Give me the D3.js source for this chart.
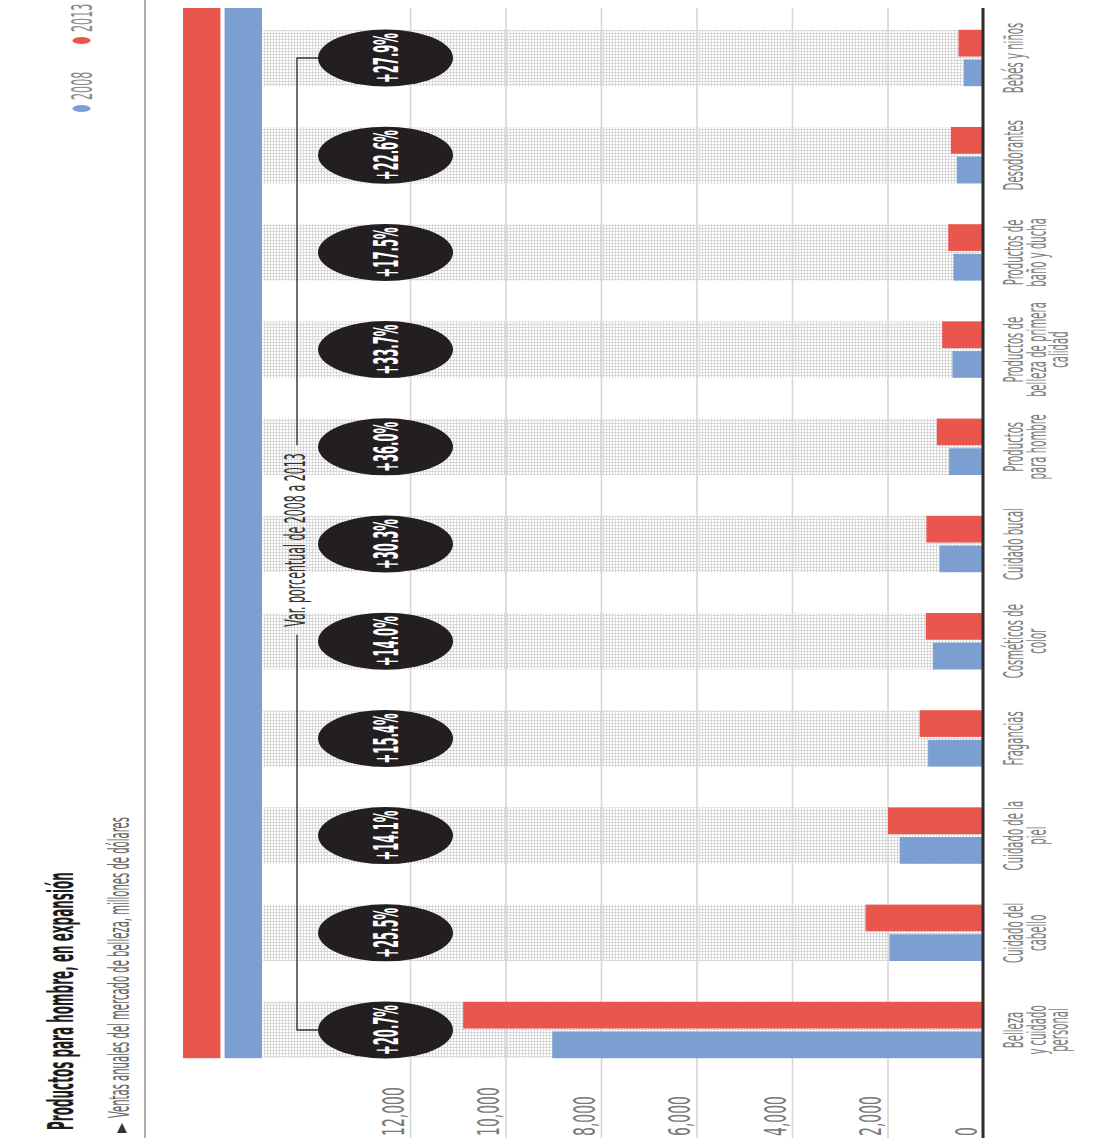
<!DOCTYPE html>
<html>
<head>
<meta charset="utf-8">
<title>Productos para hombre, en expansión</title>
<script src="https://cdn.jsdelivr.net/npm/d3@7"></script>
<style>
  html, body { margin: 0; padding: 0; background: #ffffff; }
  svg { display: block; }
</style>
</head>
<body>
<svg id="chart" width="1110" height="1138"></svg>
<script>
// ---- data -------------------------------------------------------------
const categories = [
  "Belleza y cuidado personal", "Cuidado del cabello", "Cuidado de la piel",
  "Fragancias", "Cosméticos de color", "Cuidado bucal", "Productos para hombre",
  "Productos de belleza de primera calidad", "Productos de baño y ducha",
  "Desodorantes", "Bebés y niños"
];
const categoryLines = [
  ["Belleza", "y cuidado", "personal"], ["Cuidado del", "cabello"], ["Cuidado de la", "piel"],
  ["Fragancias"], ["Cosméticos de", "color"], ["Cuidado bucal"], ["Productos", "para hombre"],
  ["Productos de", "belleza de primera", "calidad"], ["Productos de", "baño y ducha"],
  ["Desodorantes"], ["Bebés y niños"]
];
const series = ["2008", "2013"];
const sales2008 = [9020, 1960, 1745, 1150, 1050, 910, 710, 640, 620, 550, 400];
const sales2013 = [10887, 2460, 1991, 1327, 1197, 1186, 966, 856, 728, 674, 512];
const changeLabels = ["+20.7%", "+25.5%", "+14.1%", "+15.4%", "+14.0%", "+30.3%",
                      "+36.0%", "+33.7%", "+17.5%", "+22.6%", "+27.9%"];
const tickValues = [0, 2000, 4000, 6000, 8000, 10000, 12000];
const tickLabels = ["0", "2,000", "4,000", "6,000", "8,000", "10,000", "12,000"];
const titleText = "Productos para hombre, en expansión";
const subtitleText = "Ventas anuales del mercado de belleza, millones de dólares";
const bracketText = "Var. porcentual de 2008 a 2013";

const rows = categories.map((c, i) => ({
  category: c, lines: categoryLines[i], change: changeLabels[i],
  values: [{ key: series[0], value: sales2008[i] }, { key: series[1], value: sales2013[i] }]
}));

// ---- layout (the chart is drawn upright, then turned a quarter turn) ---
const W = 1138;          // length along the category axis
const NARROW = "'Liberation Sans Narrow', 'DejaVu Sans Condensed', 'Arial Narrow', sans-serif";
const color = d3.scaleOrdinal(series, ["#7b9fd1", "#e9564e"]);

const svg = d3.select("#chart");
const root = svg.append("g").attr("transform", `translate(0,${W}) rotate(-90)`);

// condensing factors so that the type keeps its narrow proportions
function probeWidth(str, size, weight) {
  const t = svg.append("text").text(str).attr("font-family", NARROW)
    .attr("font-size", size).attr("font-weight", weight);
  const w = t.node().getComputedTextLength();
  t.remove();
  return w;
}
const kBold = 258 / probeWidth(titleText, 16, "bold");
const kReg = 301 / probeWidth(subtitleText, 13.3, "normal");
const kPct = 50 / probeWidth("+27.9%", 18.8, "bold");

const x0 = d3.scaleBand().domain(categories).range([59.4, 1128.6])
  .paddingInner(0.42).paddingOuter(0.21);
const x1 = d3.scaleBand().domain(series).range([0, x0.bandwidth()]).paddingInner(0.1);
const y = d3.scaleLinear().domain([0, 12000]).range([983, 410]);
const chartRight = 1130;

// place a text at (x, yy), condensed along the reading direction and
// stretched along the value direction
function place(sel, x, yy, s, k) {
  return sel.attr("x", 0).attr("y", 0)
    .attr("transform", `translate(${x},${yy}) scale(${k},${s})`);
}

// hatched pattern for the category backgrounds
const defs = svg.append("defs");
const pat = defs.append("pattern").attr("id", "hatch")
  .attr("patternUnits", "userSpaceOnUse").attr("width", 3).attr("height", 3);
pat.append("rect").attr("width", 3).attr("height", 3).attr("fill", "#ffffff");
pat.append("path").attr("d", "M0,0.5H3M0.5,0V3").attr("stroke", "#d9d9d9").attr("stroke-width", 1);

// ---- title block -------------------------------------------------------
place(root.append("text").text(titleText), 8, 73, 2.17, kBold)
  .attr("font-family", NARROW).attr("font-weight", "bold")
  .attr("font-size", 16).attr("fill", "#1c1c1c");

root.append("path").attr("d", "M5,117L15,122L5,127Z").attr("fill", "#333");
place(root.append("text").text(subtitleText), 20, 129, 2.1, kReg)
  .attr("font-family", NARROW).attr("font-size", 13.3).attr("fill", "#666");

root.append("line").attr("x1", 0).attr("x2", W).attr("y1", 145).attr("y2", 145)
  .attr("stroke", "#777").attr("stroke-width", 1.2);

// legend
const legendPos = { "2008": 1029.5, "2013": 1097.5 };
series.forEach(s => {
  root.append("ellipse").attr("cx", legendPos[s]).attr("cy", 81.5)
    .attr("rx", 3.6).attr("ry", 9).attr("fill", color(s));
  place(root.append("text").text(s), legendPos[s] + 8.5, 92, 1.97, kReg)
    .attr("font-family", NARROW).attr("font-size", 14.8).attr("fill", "#888");
});

// header stripes in the series colours
const stripeStart = x0.range()[0] + x0.paddingOuter() * x0.step();
const stripe = d3.scaleBand().domain(series.slice().reverse()).range([183, 262]).paddingInner(0.1);
root.append("g").selectAll("rect").data(series).join("rect")
  .attr("x", stripeStart).attr("width", chartRight - stripeStart)
  .attr("y", d => stripe(d)).attr("height", stripe.bandwidth())
  .attr("fill", d => color(d));

// ---- category backgrounds ---------------------------------------------
root.append("g").selectAll("rect").data(rows).join("rect")
  .attr("x", d => x0(d.category)).attr("width", x0.bandwidth())
  .attr("y", 263).attr("height", y(0) - 263)
  .attr("fill", "url(#hatch)");

// ---- value grid + axis labels ------------------------------------------
const axis = d3.axisLeft(y).tickValues(tickValues).tickSize(-chartRight)
  .tickFormat((d, i) => tickLabels[i]);
const gAxis = root.append("g").call(axis);
gAxis.select(".domain").remove();
gAxis.selectAll(".tick line").attr("stroke", "#d6d6d6").attr("stroke-width", 1.6);
gAxis.selectAll(".tick text").each(function () {
  place(d3.select(this), 2, -7, 1.63, kReg)
    .attr("dy", null).attr("text-anchor", "start")
    .attr("font-family", NARROW).attr("font-size", 18.5).attr("fill", "#7a7a7a");
});

// ---- bars ---------------------------------------------------------------
root.append("g").selectAll("g").data(rows).join("g")
  .attr("transform", d => `translate(${x0(d.category)},0)`)
  .selectAll("rect").data(d => d.values).join("rect")
  .attr("x", d => x1(d.key)).attr("width", x1.bandwidth())
  .attr("y", d => y(d.value)).attr("height", d => y(0) - y(d.value))
  .attr("fill", d => color(d.key));

// baseline
root.append("line").attr("x1", 0).attr("x2", chartRight)
  .attr("y1", y(0)).attr("y2", y(0)).attr("stroke", "#2e2e2e").attr("stroke-width", 3);

// ---- category labels ----------------------------------------------------
const catG = root.append("g");
rows.forEach(d => {
  const cx = x0(d.category) + x0.bandwidth() / 2;
  d.lines.forEach((line, j) => {
    place(catG.append("text").text(line), cx, 1023 + j * 22.5, 2.0, kReg)
      .attr("text-anchor", "middle").attr("font-family", NARROW)
      .attr("font-size", 13.4).attr("fill", "#808080");
  });
});

// ---- change bubbles -----------------------------------------------------
const bubbleY = 385.5;
const bub = root.append("g").selectAll("g").data(rows).join("g")
  .attr("transform", d => `translate(${x0(d.category) + x0.bandwidth() / 2},${bubbleY})`);
bub.append("ellipse").attr("rx", 28.5).attr("ry", 67.5).attr("fill", "#231f20");
bub.append("text").text(d => d.change)
  .attr("transform", `translate(0,12) scale(${kPct},1.77)`)
  .attr("text-anchor", "middle").attr("font-family", NARROW).attr("font-weight", "bold")
  .attr("font-size", 18.8).attr("fill", "#ffffff");

// bracket joining the bubbles, labelled in the middle
const bx = 297, bEnd = bubbleY - 67.5;
const first = x0(categories[0]) + x0.bandwidth() / 2;
const last = x0(categories[categories.length - 1]) + x0.bandwidth() / 2;
const mid = (first + last) / 2 + 4;
const bLabel = place(root.append("text").text(bracketText), mid, bx + 8, 1.9, kReg)
  .attr("text-anchor", "middle").attr("font-family", NARROW)
  .attr("font-size", 14.6).attr("fill", "#333");
const half = bLabel.node().getComputedTextLength() * kReg / 2 + 8;
root.append("path")
  .attr("d", `M${first},${bEnd}V${bx}H${mid - half}M${mid + half},${bx}H${last}V${bEnd}`)
  .attr("fill", "none").attr("stroke", "#333").attr("stroke-width", 1.4);
</script>
</body>
</html>
